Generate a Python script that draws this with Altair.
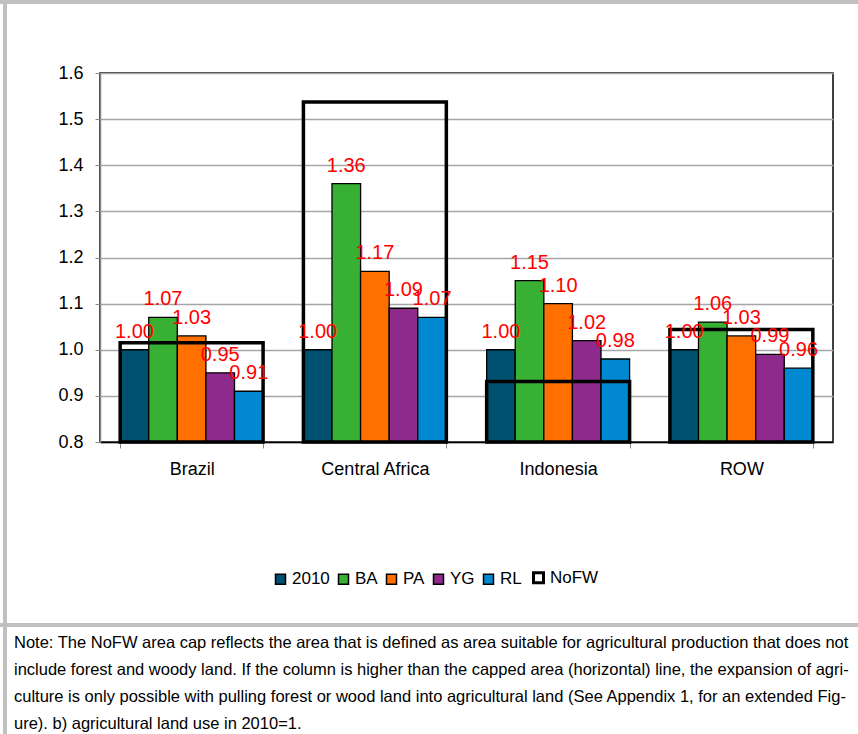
import altair as alt
import pandas as pd

# Agricultural land use relative to 2010 (=1) by region and scenario
REGIONS = ["Brazil", "Central Africa", "Indonesia", "ROW"]
SERIES = ["2010", "BA", "PA", "YG", "RL"]
V_2010 = [1.00, 1.00, 1.00, 1.00]
V_BA = [1.07, 1.36, 1.15, 1.06]
V_PA = [1.03, 1.17, 1.10, 1.03]
V_YG = [0.95, 1.09, 1.02, 0.99]
V_RL = [0.91, 1.07, 0.98, 0.96]
# Area cap without forest and woody land (NoFW)
NOFW_CAP = [1.015, 1.537, 0.931, 1.044]

COLORS = ["#00506f", "#38b034", "#ff7000", "#8e2a8c", "#0089d1"]
Y_MIN, Y_MAX = 0.8, 1.6
Y_TICKS = [0.8, 0.9, 1.0, 1.1, 1.2, 1.3, 1.4, 1.5, 1.6]

NOTE_LINES = [
    "Note: The NoFW area cap reflects the area that is defined as area suitable for agricultural production that does not",
    "include forest and woody land. If the column is higher than the capped area (horizontal) line, the expansion of agri-",
    "culture is only possible with pulling forest or wood land into agricultural land (See Appendix 1, for an extended Fig-",
    "ure). b) agricultural land use in 2010=1.",
]

FONT = "Liberation Sans"

series_values = [V_2010, V_BA, V_PA, V_YG, V_RL]
rows = []
for s, vals in zip(SERIES, series_values):
    for r, v in zip(REGIONS, vals):
        rows.append({"region": r, "series": s, "value": v, "base": Y_MIN})
bars_df = pd.DataFrame(rows)
cap_df = pd.DataFrame({"region": REGIONS, "cap": NOFW_CAP, "base": [Y_MIN] * len(REGIONS)})

legend_domain = SERIES + ["NoFW"]
legend_colors = COLORS + ["white"]

x_enc = alt.X(
    "region:N",
    sort=REGIONS,
    scale=alt.Scale(paddingInner=0.22, paddingOuter=0.11),
    axis=alt.Axis(
        title=None, labelAngle=0, tickBand="extent", grid=False,
        domainColor="black", domainWidth=1.5, tickColor="#888888", tickSize=6,
        labelFontSize=18, labelPadding=12, labelColor="black", labelFont=FONT,
    ),
)
y_scale = alt.Scale(domain=[Y_MIN, Y_MAX], zero=False, nice=False)
y_axis = alt.Axis(
    values=Y_TICKS, format=".1f", title=None, grid=True,
    gridColor="#a6a6a6", gridWidth=1.3,
    domainColor="#888888", domainWidth=1.5, tickColor="#888888", tickSize=5,
    labelFontSize=18, labelPadding=12, labelColor="black", labelFont=FONT,
)
x_off = alt.XOffset("series:N", sort=SERIES, scale=alt.Scale(paddingInner=0, paddingOuter=0))

legend_kw = dict(
    title=None, orient="none", direction="horizontal", legendX=172, legendY=496,
    symbolType="square", symbolSize=100,
    # heavier outline for the NoFW entry, like the cap boxes
    symbolStrokeWidth=alt.ExprRef(expr="datum.value === 'NoFW' ? 3 : 1.5"),
    labelFontSize=17, labelFont=FONT, labelColor="black", labelOffset=3,
    columnPadding=5,
)

bars = alt.Chart(bars_df).mark_bar(strokeWidth=1.3).encode(
    x=x_enc,
    xOffset=x_off,
    y=alt.Y("value:Q", scale=y_scale, axis=y_axis),
    y2=alt.Y2("base:Q"),
    color=alt.Color("series:N", scale=alt.Scale(domain=legend_domain, range=legend_colors),
                    legend=alt.Legend(**legend_kw)),
    stroke=alt.Stroke("series:N", scale=alt.Scale(domain=legend_domain, range=["black"] * 6),
                      legend=alt.Legend(**legend_kw)),
)

caps = alt.Chart(cap_df).mark_bar(fill=None, fillOpacity=0, stroke="black", strokeWidth=3.5).encode(
    x=x_enc,
    y=alt.Y("cap:Q", scale=y_scale),
    y2=alt.Y2("base:Q"),
)

labels = alt.Chart(bars_df).mark_text(
    color="#ff0000", fontSize=20, font=FONT, dy=-12, baseline="alphabetic"
).encode(
    x=x_enc,
    xOffset=x_off,
    y=alt.Y("value:Q", scale=y_scale),
    text=alt.Text("value:Q", format=".2f"),
)

one = alt.Data(values=[{"k": 0}])
border_color = "#c0c0c0"
left_border = alt.Chart(one).mark_rule(color=border_color, strokeWidth=4).encode(
    x=alt.value(-95), y=alt.value(-73), y2=alt.value(661)
)
top_border = alt.Chart(one).mark_rule(color=border_color, strokeWidth=4).encode(
    x=alt.value(-100), x2=alt.value(758), y=alt.value(-71)
)
divider = alt.Chart(one).mark_rule(color=border_color, strokeWidth=4).encode(
    x=alt.value(-100), x2=alt.value(758), y=alt.value(552)
)
note = alt.Chart(one).mark_text(
    text=NOTE_LINES, align="left", baseline="alphabetic", font=FONT,
    fontSize=16.5, lineHeight=27, color="black",
).encode(x=alt.value(-86), y=alt.value(575))

chart = alt.layer(
    bars, caps, labels, left_border, top_border, divider, note
).properties(
    width=733,
    height=369,
    padding={"left": 100, "top": 73, "right": 25, "bottom": 292},
    autosize=alt.AutoSizeParams(type="none"),
    background="white",
).configure_view(
    stroke="black", strokeWidth=1.5
)

chart.save("out.html", embed_options={"renderer": "svg", "actions": False})
